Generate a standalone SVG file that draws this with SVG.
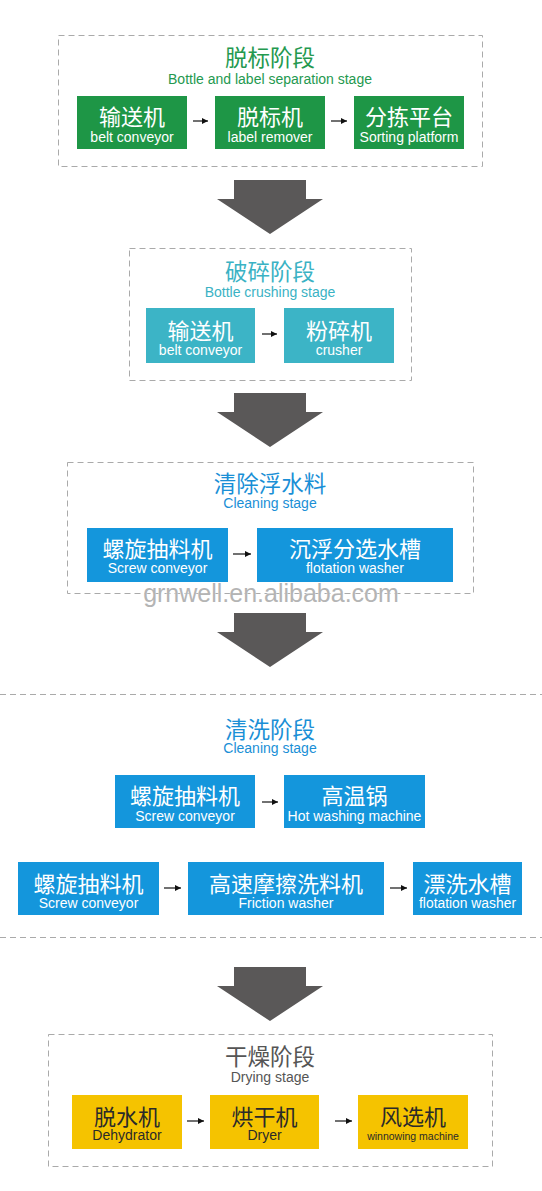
<svg xmlns="http://www.w3.org/2000/svg" width="542" height="1191" viewBox="0 0 542 1191">
<style>
text{font-family:"Liberation Sans","Noto Sans CJK SC",sans-serif;text-anchor:middle}
.frame{fill:none;stroke:#aaaaaa;stroke-width:1;stroke-dasharray:6 4}
.cn{font-size:22px;fill:#ffffff}
.en{font-size:14px;fill:#ffffff}
.title{font-size:22.5px}
.sub{font-size:14px}
.g{fill:#1e9646}.t{fill:#3cb4c6}.b{fill:#1496dc}.y{fill:#f5c300}
.gt{fill:#24994f}.tt{fill:#3ab2c4}.bt{fill:#1a8fd6}.yt{fill:#555555}
.dk{fill:#2a2a2a}
.small{stroke:#111;stroke-width:1.2;fill:none;marker-end:url(#ah)}
.big{fill:#5a5858}
</style>
<defs>
<marker id="ah" markerUnits="userSpaceOnUse" markerWidth="7" markerHeight="7" refX="6" refY="3.5" orient="auto"><path d="M0,0.5 L6,3.5 L0,6.5 Z" fill="#111"/></marker>
<path id="bigarrow" d="M-36,0 H36 V19 H53 L0,54 L-53,19 H-36 Z"/>
</defs>
<rect width="542" height="1191" fill="#ffffff"/>

<g id="stage1">
<rect class="frame" x="58.5" y="35.5" width="424" height="131"/>
<text class="title gt" x="270" y="66">脱标阶段</text>
<text class="sub gt" x="270" y="83.5">Bottle and label separation stage</text>
</g>
<g id="n1_conveyor"><rect class="g" x="77" y="96" width="110" height="53"/><text class="cn" x="132" y="125">输送机</text><text class="en" x="132" y="141.5">belt conveyor</text></g>
<g id="n1_remover"><rect class="g" x="215" y="96" width="110" height="53"/><text class="cn" x="270" y="125">脱标机</text><text class="en" x="270" y="141.5">label remover</text></g>
<g id="n1_sorting"><rect class="g" x="354" y="96" width="110" height="53"/><text class="cn" x="409" y="125">分拣平台</text><text class="en" x="409" y="141.5">Sorting platform</text></g>

<g id="stage2">
<rect class="frame" x="129.5" y="248.5" width="282" height="132"/>
<text class="title tt" x="270" y="280">破碎阶段</text>
<text class="sub tt" x="270" y="297">Bottle crushing stage</text>
</g>
<g id="n2_conveyor"><rect class="t" x="146" y="308" width="109" height="55"/><text class="cn" x="200.5" y="339">输送机</text><text class="en" x="200.5" y="354.5">belt conveyor</text></g>
<g id="n2_crusher"><rect class="t" x="284" y="308" width="110" height="55"/><text class="cn" x="339" y="339">粉碎机</text><text class="en" x="339" y="354.5">crusher</text></g>

<g id="stage3">
<rect class="frame" x="67.5" y="462.5" width="406" height="131"/>
<text class="title bt" x="270" y="492">清除浮水料</text>
<text class="sub bt" x="270" y="508">Cleaning stage</text>
</g>
<g id="n3_screw"><rect class="b" x="87" y="528" width="141" height="54"/><text class="cn" x="157.5" y="557">螺旋抽料机</text><text class="en" x="157.5" y="572.5">Screw conveyor</text></g>
<g id="n3_flotation"><rect class="b" x="257" y="528" width="196" height="54"/><text class="cn" x="355" y="557">沉浮分选水槽</text><text class="en" x="355" y="572.5">flotation washer</text></g>

<text id="watermark" x="271" y="602" style="font-size:25px;fill:#b4b4b4;stroke:#ffffff;stroke-width:0.6;paint-order:stroke">grnwell.en.alibaba.com</text>

<g id="stage4">
<line x1="0" y1="694.5" x2="542" y2="694.5" stroke="#aaaaaa" stroke-dasharray="6 4"/>
<text class="title bt" x="270" y="738">清洗阶段</text>
<text class="sub bt" x="270" y="753">Cleaning stage</text>
<line x1="0" y1="937.5" x2="542" y2="937.5" stroke="#aaaaaa" stroke-dasharray="6 4"/>
</g>
<g id="n4_screw1"><rect class="b" x="115" y="775" width="140" height="53"/><text class="cn" x="185" y="804">螺旋抽料机</text><text class="en" x="185" y="821">Screw conveyor</text></g>
<g id="n4_hot"><rect class="b" x="284" y="775" width="141" height="53"/><text class="cn" x="354.5" y="804">高温锅</text><text class="en" x="354.5" y="821">Hot washing machine</text></g>
<g id="n4_screw2"><rect class="b" x="18" y="862" width="141" height="53"/><text class="cn" x="88.5" y="891.5">螺旋抽料机</text><text class="en" x="88.5" y="907.5">Screw conveyor</text></g>
<g id="n4_friction"><rect class="b" x="188" y="862" width="196" height="53"/><text class="cn" x="286" y="891.5">高速摩擦洗料机</text><text class="en" x="286" y="907.5">Friction washer</text></g>
<g id="n4_rinse"><rect class="b" x="413" y="862" width="109" height="53"/><text class="cn" x="467.5" y="891.5">漂洗水槽</text><text class="en" x="467.5" y="907.5" textLength="97" lengthAdjust="spacingAndGlyphs">flotation washer</text></g>

<g id="stage5">
<rect class="frame" x="48.5" y="1034.5" width="444" height="132"/>
<text class="title yt" x="270" y="1065">干燥阶段</text>
<text class="sub yt" x="270" y="1082">Drying stage</text>
</g>
<g id="n5_dehydrator"><rect class="y" x="72" y="1095" width="110" height="54"/><text class="cn dk" x="127" y="1125">脱水机</text><text class="en dk" x="127" y="1140">Dehydrator</text></g>
<g id="n5_dryer"><rect class="y" x="210" y="1095" width="109" height="54"/><text class="cn dk" x="264.5" y="1125">烘干机</text><text class="en dk" x="264.5" y="1140">Dryer</text></g>
<g id="n5_winnow"><rect class="y" x="358" y="1095" width="110" height="54"/><text class="cn dk" x="413" y="1125">风选机</text><text class="dk" x="413" y="1140" style="font-size:10.5px">winnowing machine</text></g>

<g id="connectors">
<line class="small" x1="193" y1="121" x2="208" y2="121"/>
<line class="small" x1="331" y1="121" x2="347" y2="121"/>
<line class="small" x1="262" y1="334" x2="277" y2="334"/>
<line class="small" x1="233" y1="554" x2="251" y2="554"/>
<line class="small" x1="262" y1="802" x2="278" y2="802"/>
<line class="small" x1="164" y1="888" x2="181" y2="888"/>
<line class="small" x1="390" y1="888" x2="407" y2="888"/>
<line class="small" x1="187" y1="1121" x2="204" y2="1121"/>
<line class="small" x1="335" y1="1121" x2="352" y2="1121"/>
<use class="big" href="#bigarrow" transform="translate(270,180)"/>
<use class="big" href="#bigarrow" transform="translate(270,393)"/>
<use class="big" href="#bigarrow" transform="translate(270,613)"/>
<use class="big" href="#bigarrow" transform="translate(270,967)"/>
</g>
</svg>
